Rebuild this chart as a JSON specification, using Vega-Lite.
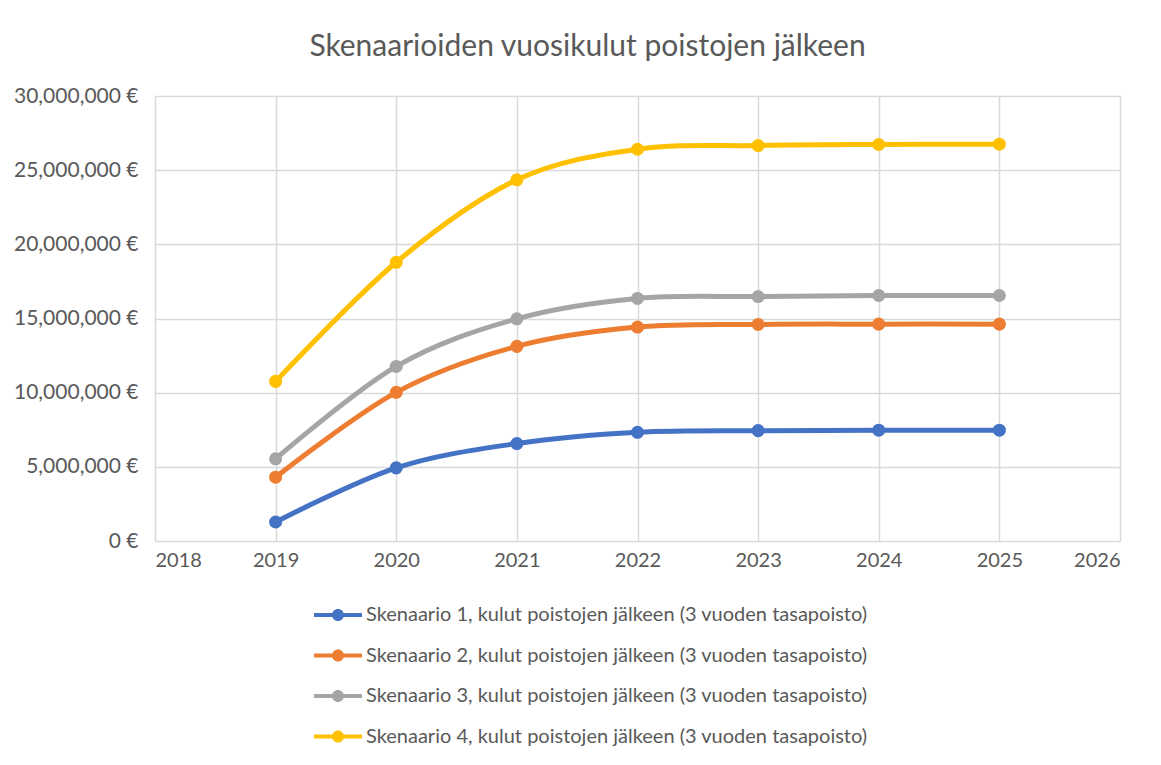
{
  "$schema": "https://vega.github.io/schema/vega-lite/v6.json",
  "width": 965,
  "height": 445,
  "autosize": {"type": "none"},
  "padding": {"left": 155, "top": 96, "right": 41, "bottom": 224},
  "background": "white",
  "title": {
    "text": "Skenaarioiden vuosikulut poistojen jälkeen",
    "font": "Lato",
    "fontSize": 30,
    "fontWeight": "normal",
    "color": "#595959",
    "anchor": "middle",
    "dx": -50,
    "offset": 23
  },
  "data": {
    "values": [
      {"vuosi": 2019, "sarja": "Skenaario 1, kulut poistojen jälkeen (3 vuoden tasapoisto)", "kulut": 1280000},
      {"vuosi": 2020, "sarja": "Skenaario 1, kulut poistojen jälkeen (3 vuoden tasapoisto)", "kulut": 4930000},
      {"vuosi": 2021, "sarja": "Skenaario 1, kulut poistojen jälkeen (3 vuoden tasapoisto)", "kulut": 6570000},
      {"vuosi": 2022, "sarja": "Skenaario 1, kulut poistojen jälkeen (3 vuoden tasapoisto)", "kulut": 7330000},
      {"vuosi": 2023, "sarja": "Skenaario 1, kulut poistojen jälkeen (3 vuoden tasapoisto)", "kulut": 7440000},
      {"vuosi": 2024, "sarja": "Skenaario 1, kulut poistojen jälkeen (3 vuoden tasapoisto)", "kulut": 7470000},
      {"vuosi": 2025, "sarja": "Skenaario 1, kulut poistojen jälkeen (3 vuoden tasapoisto)", "kulut": 7470000},
      {"vuosi": 2019, "sarja": "Skenaario 2, kulut poistojen jälkeen (3 vuoden tasapoisto)", "kulut": 4300000},
      {"vuosi": 2020, "sarja": "Skenaario 2, kulut poistojen jälkeen (3 vuoden tasapoisto)", "kulut": 10020000},
      {"vuosi": 2021, "sarja": "Skenaario 2, kulut poistojen jälkeen (3 vuoden tasapoisto)", "kulut": 13120000},
      {"vuosi": 2022, "sarja": "Skenaario 2, kulut poistojen jälkeen (3 vuoden tasapoisto)", "kulut": 14420000},
      {"vuosi": 2023, "sarja": "Skenaario 2, kulut poistojen jälkeen (3 vuoden tasapoisto)", "kulut": 14600000},
      {"vuosi": 2024, "sarja": "Skenaario 2, kulut poistojen jälkeen (3 vuoden tasapoisto)", "kulut": 14620000},
      {"vuosi": 2025, "sarja": "Skenaario 2, kulut poistojen jälkeen (3 vuoden tasapoisto)", "kulut": 14620000},
      {"vuosi": 2019, "sarja": "Skenaario 3, kulut poistojen jälkeen (3 vuoden tasapoisto)", "kulut": 5540000},
      {"vuosi": 2020, "sarja": "Skenaario 3, kulut poistojen jälkeen (3 vuoden tasapoisto)", "kulut": 11770000},
      {"vuosi": 2021, "sarja": "Skenaario 3, kulut poistojen jälkeen (3 vuoden tasapoisto)", "kulut": 14980000},
      {"vuosi": 2022, "sarja": "Skenaario 3, kulut poistojen jälkeen (3 vuoden tasapoisto)", "kulut": 16350000},
      {"vuosi": 2023, "sarja": "Skenaario 3, kulut poistojen jälkeen (3 vuoden tasapoisto)", "kulut": 16480000},
      {"vuosi": 2024, "sarja": "Skenaario 3, kulut poistojen jälkeen (3 vuoden tasapoisto)", "kulut": 16550000},
      {"vuosi": 2025, "sarja": "Skenaario 3, kulut poistojen jälkeen (3 vuoden tasapoisto)", "kulut": 16550000},
      {"vuosi": 2019, "sarja": "Skenaario 4, kulut poistojen jälkeen (3 vuoden tasapoisto)", "kulut": 10760000},
      {"vuosi": 2020, "sarja": "Skenaario 4, kulut poistojen jälkeen (3 vuoden tasapoisto)", "kulut": 18790000},
      {"vuosi": 2021, "sarja": "Skenaario 4, kulut poistojen jälkeen (3 vuoden tasapoisto)", "kulut": 24350000},
      {"vuosi": 2022, "sarja": "Skenaario 4, kulut poistojen jälkeen (3 vuoden tasapoisto)", "kulut": 26410000},
      {"vuosi": 2023, "sarja": "Skenaario 4, kulut poistojen jälkeen (3 vuoden tasapoisto)", "kulut": 26660000},
      {"vuosi": 2024, "sarja": "Skenaario 4, kulut poistojen jälkeen (3 vuoden tasapoisto)", "kulut": 26730000},
      {"vuosi": 2025, "sarja": "Skenaario 4, kulut poistojen jälkeen (3 vuoden tasapoisto)", "kulut": 26750000}
    ]
  },
  "encoding": {
    "x": {
      "field": "vuosi",
      "type": "quantitative",
      "scale": {"domain": [2018, 2026], "nice": false, "zero": false},
      "axis": {
        "title": null,
        "values": [2018, 2019, 2020, 2021, 2022, 2023, 2024, 2025, 2026],
        "format": "d",
        "domain": false,
        "ticks": false,
        "labelPadding": 9,
        "labelFont": "Lato",
        "labelFontSize": 20,
        "labelColor": "#595959",
        "gridColor": "#D9D9D9",
        "gridWidth": 1.5
      }
    },
    "y": {
      "field": "kulut",
      "type": "quantitative",
      "scale": {"domain": [0, 30000000], "nice": false},
      "axis": {
        "title": null,
        "values": [0, 5000000, 10000000, 15000000, 20000000, 25000000, 30000000],
        "labelExpr": "format(datum.value, ',') + ' €'",
        "domain": false,
        "ticks": false,
        "labelPadding": 17,
        "labelFont": "Lato",
        "labelFontSize": 21,
        "labelColor": "#595959",
        "gridColor": "#D9D9D9",
        "gridWidth": 1.5
      }
    },
    "color": {
      "field": "sarja",
      "type": "nominal",
      "scale": {"range": ["#4472C4", "#ED7D31", "#A5A5A5", "#FFC000"]},
      "legend": {
        "title": null,
        "orient": "none",
        "direction": "vertical",
        "legendX": 173,
        "legendY": 509,
        "symbolType": "M-4,-0.35H4V0.35H-4Z M1,0A1,1 0 1,1 -1,0A1,1 0 1,1 1,0Z",
        "symbolSize": 144,
        "symbolStrokeWidth": 0,
        "symbolOpacity": 1,
        "labelOffset": 18,
        "labelFont": "Lato",
        "labelFontSize": 20,
        "labelColor": "#595959",
        "labelLimit": 700,
        "rowPadding": 20.5
      }
    }
  },
  "layer": [
    {
      "mark": {"type": "line", "interpolate": "cardinal", "strokeWidth": 5, "strokeCap": "round"}
    },
    {
      "mark": {"type": "point", "filled": true, "size": 170, "opacity": 1}
    }
  ]
}
